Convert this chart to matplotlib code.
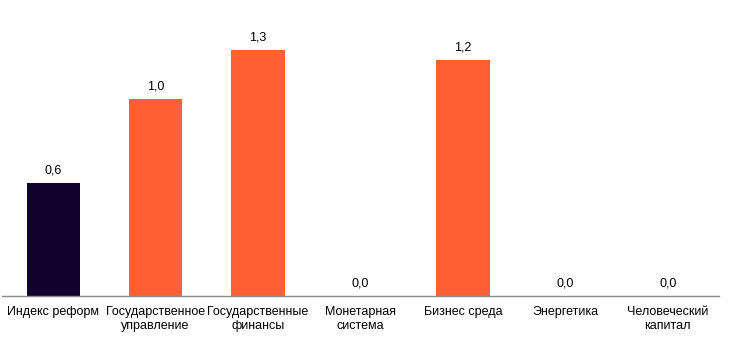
import matplotlib
matplotlib.use("Agg")
import matplotlib.pyplot as plt

categories = ["Индекс реформ", "Государственное\nуправление", "Государственные\nфинансы",
              "Монетарная\nсистема", "Бизнес среда", "Энергетика", "Человеческий\nкапитал"]
values = [0.58, 1.01, 1.26, 0.0, 1.21, 0.0, 0.0]
colors = ["#12002E", "#FF5F33", "#FF5F33", "#FF5F33", "#FF5F33", "#FF5F33", "#FF5F33"]

plt.rcParams['font.family'] = ['Liberation Sans', 'DejaVu Sans']

fig = plt.figure(figsize=(7.33, 3.58), dpi=100)
W, H = 733, 358
left, right, base, top = 2, 719, 296, 0
ax = fig.add_axes([left / W, (H - base) / H, (right - left) / W, (base - top) / H])

x = list(range(len(categories)))
ax.bar(x, values, width=0.52, color=colors)
ax.set_xlim(-0.5, len(categories) - 0.5)
ax.set_ylim(0, (base - top) / 195.0)

for xi, v in zip(x, values):
    ax.text(xi, v + 0.035, f"{v:.1f}".replace(".", ","), ha="center", va="bottom",
            fontsize=9, color="#000000")

ax.set_xticks(x)
ax.set_xticklabels(categories, fontsize=9, linespacing=1.2)
ax.tick_params(axis="x", length=0, pad=7)
ax.set_yticks([])
for s in ["top", "left", "right"]:
    ax.spines[s].set_visible(False)
ax.spines["bottom"].set_color("#8C8C8C")
ax.spines["bottom"].set_linewidth(1.0)

fig.savefig("out.png", dpi=100)
